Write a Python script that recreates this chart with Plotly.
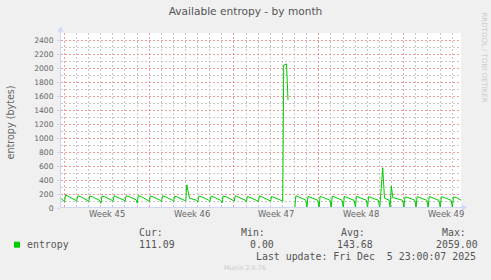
import plotly.graph_objects as go
import pandas as pd

# ---------------- data ----------------
days = [d.strftime("%Y-%m-%d") for d in pd.date_range("2025-11-03", "2025-12-05", freq="D")]
day_hours = ["00:30", "02:30", "08:00", "22:00"]

trough = [92, 100, 95, 68, 98, 100, 70, 95, 88, 95, 100, 85, 95, 75, 100, 90, 95, 100,
          100,
          2, 5, 3, 8, 4, 6, 3,
          0, None,
          5, 8, 4, 6, 10]
peak = [186, 170, 172, 170, 175, 172, 178, 170, 175, 168, 330, 170, 168, 172, 175, 165, 175, 165,
        2040,
        175, 165, 168, 170, 165, 168, 162,
        None, 150,
        160, 162, 165, 160, 158]
plateau = [168, 165, 160, 162, 160, 165, 165, 160, 162, 158, 140, 160, 158, 162, 160, 150, 158, 150,
           2059,
           158, 150, 152, 155, 150, 150, 148,
           None, 140,
           150, 148, 150, 152, 150]
evening = [112, 110, 108, 110, 112, 118, 108, 110, 112, 108, 110, 112, 108, 110, 112, 110, 115, 105,
           None,
           115, 110, 112, 110, 108, 112, 110,
           None, 110,
           112, 110, 108, 110, None]

extra_times = ["2025-11-02 17:30", "2025-11-02 22:00",
               "2025-11-21 11:00", "2025-11-21 16:00", "2025-11-21 21:30",
               "2025-11-29 06:30", "2025-11-29 10:00", "2025-11-29 19:00",
               "2025-11-29 21:00", "2025-11-29 23:30",
               "2025-12-05 17:30"]
extra_values = [138, 112,
                1540, None, 0,
                576, 140, 112,
                5, 314,
                111.09]

x_start, x_end = "2025-11-02 17:30", "2025-12-05 17:30"
week_label_dates = ["2025-11-06 12:00", "2025-11-13 12:00", "2025-11-20 12:00",
                    "2025-11-27 12:00", "2025-12-04 12:00"]
week_labels = ["Week 45", "Week 46", "Week 47", "Week 48", "Week 49"]
y_max = 2500

series_name = "entropy"
stat_headers = ["Cur:", "Min:", "Avg:", "Max:"]
stat_values = ["111.09", "0.00", "143.68", "2059.00"]
last_update = "Last update: Fri Dec  5 23:00:07 2025"

# ---------------- build series ----------------
pts = []
for i, d in enumerate(days):
    for hh, arr in zip(day_hours, [trough, peak, plateau, evening]):
        if arr[i] is not None:
            pts.append((f"{d} {hh}", arr[i]))
pts += list(zip(extra_times, extra_values))
pts.sort(key=lambda p: p[0])
times = [p[0] for p in pts]
vals = [p[1] for p in pts]

# minor grid positions (days that are not Mondays, odd hundreds)
minor_days = [d.strftime("%Y-%m-%d") for d in pd.date_range("2025-11-03", "2025-12-05", freq="D")
              if d.weekday() != 0]
minor_y = list(range(100, y_max + 1, 200))

# ---------------- layout geometry ----------------
W, H = 491, 280
L, T, PW, PH = 61, 33, 400, 175
GREEN = "#00CC00"
AXIS = "#CFD6F8"
MGRID = "#F49898"
GRID = "#C8C8C8"
FONT = "DejaVu Sans"
MONO = "DejaVu Sans Mono"
TXT = "#666666"


def xp(px):
    return (px - L) / PW


def yp(py):
    return (T + PH - py) / PH


fig = go.Figure()
# dummy trace carrying the minor-grid axes
fig.add_trace(go.Scatter(x=[x_start], y=[None], xaxis="x2", yaxis="y2", mode="lines",
                         hoverinfo="skip", showlegend=False))
fig.add_trace(go.Scatter(x=times, y=vals, mode="lines", connectgaps=False,
                         line=dict(color=GREEN, width=1), hoverinfo="skip"))

fig.update_layout(
    width=W, height=H,
    margin=dict(l=L, r=W - L - PW, t=T, b=H - T - PH, pad=0),
    paper_bgcolor="#F0F0F0", plot_bgcolor="#FFFFFF",
    showlegend=False,
    font=dict(family=FONT, color=TXT, size=8),
    title=dict(text="Available entropy - by month", x=0.5, xref="container", xanchor="center",
               y=1 - 11.5 / H, yref="container", yanchor="middle",
               font=dict(family=FONT, size=10.6, color="#555555")),
    xaxis=dict(
        type="date", range=[x_start, x_end], tick0="2025-11-03", dtick=7 * 86400000,
        showticklabels=False, ticks="", showgrid=True, gridcolor=MGRID, gridwidth=1,
        griddash="2px,2px", zeroline=False, showline=False, fixedrange=True),
    xaxis2=dict(
        type="date", range=[x_start, x_end], overlaying="x", tickvals=minor_days,
        showticklabels=False, ticks="", showgrid=True, gridcolor=GRID, gridwidth=1,
        griddash="2px,2px", zeroline=False, showline=False, fixedrange=True),
    yaxis=dict(
        range=[0, y_max], tick0=0, dtick=200, showgrid=True, gridcolor=MGRID, gridwidth=1,
        griddash="2px,2px", zeroline=False, showline=False, fixedrange=True,
        ticks="outside", ticklen=3, tickcolor=AXIS, ticklabelstandoff=2,
        tickfont=dict(family=FONT, size=7.6, color=TXT)),
    yaxis2=dict(
        range=[0, y_max], overlaying="y", tickvals=minor_y, showticklabels=False, ticks="",
        showgrid=True, gridcolor=GRID, gridwidth=1, griddash="2px,2px",
        zeroline=False, showline=False, fixedrange=True),
)

shapes = []
# y axis with arrow
shapes.append(dict(type="line", xref="paper", yref="paper", x0=xp(60.5), x1=xp(60.5),
                   y0=yp(208), y1=yp(30), line=dict(color=AXIS, width=1)))
shapes.append(dict(type="path", xref="paper", yref="paper",
                   path=f"M {xp(57.5)} {yp(31.5)} L {xp(60.5)} {yp(26.5)} L {xp(63.5)} {yp(31.5)} Z",
                   fillcolor=AXIS, line=dict(color=AXIS, width=0)))
# x axis with arrow
shapes.append(dict(type="line", xref="paper", yref="paper", x0=xp(60.5), x1=xp(463),
                   y0=yp(207.5), y1=yp(207.5), line=dict(color=AXIS, width=1)))
shapes.append(dict(type="path", xref="paper", yref="paper",
                   path=f"M {xp(462)} {yp(204.5)} L {xp(467)} {yp(207.5)} L {xp(462)} {yp(210.5)} Z",
                   fillcolor=AXIS, line=dict(color=AXIS, width=0)))
# legend square
shapes.append(dict(type="rect", xref="paper", yref="paper", x0=xp(14), x1=xp(20),
                   y0=yp(247.7), y1=yp(241.7), fillcolor=GREEN, line=dict(width=0)))
fig.update_layout(shapes=shapes)

ann = []
for d, t in zip(week_label_dates, week_labels):
    ann.append(dict(x=d, xref="x", y=yp(214), yref="paper", text=t, showarrow=False,
                    xanchor="center", yanchor="middle", font=dict(family=FONT, size=8.4, color=TXT)))
ann.append(dict(x=xp(10.5), y=yp(123), xref="paper", yref="paper", text="entropy (bytes)",
                textangle=-90, showarrow=False, xanchor="center", yanchor="middle",
                font=dict(family=FONT, size=9.6, color=TXT)))
ann.append(dict(x=xp(484), y=yp(57.5), xref="paper", yref="paper", text="RRDTOOL / TOBI OETIKER",
                textangle=90, showarrow=False, xanchor="center", yanchor="middle",
                font=dict(family=FONT, size=7, color="#CCCCCC")))

mono = dict(family=MONO, size=9.9, color="#555555")
for hx, h in zip([138, 240, 340, 440.7], stat_headers):
    ann.append(dict(x=xp(hx), y=yp(232.3), xref="paper", yref="paper", text=h, showarrow=False,
                    xanchor="left", yanchor="middle", borderpad=0, font=mono))
ann.append(dict(x=xp(26), y=yp(244.3), xref="paper", yref="paper", text=series_name, showarrow=False,
                xanchor="left", yanchor="middle", borderpad=0, font=mono))
for vx, v in zip([137.7, 249.3, 336, 435], stat_values):
    ann.append(dict(x=xp(vx), y=yp(244.3), xref="paper", yref="paper", text=v, showarrow=False,
                    xanchor="left", yanchor="middle", borderpad=0, font=mono))
ann.append(dict(x=xp(255), y=yp(256.7), xref="paper", yref="paper",
                text=last_update.replace("  ", "&nbsp; "), showarrow=False,
                xanchor="left", yanchor="middle", borderpad=0, font=mono))
ann.append(dict(x=xp(245), y=yp(268.3), xref="paper", yref="paper", text="Munin 2.0.76",
                showarrow=False, xanchor="center", yanchor="middle",
                font=dict(family=FONT, size=6.4, color="#CCCCCC")))
fig.update_layout(annotations=ann)

fig.write_html("out.html")
